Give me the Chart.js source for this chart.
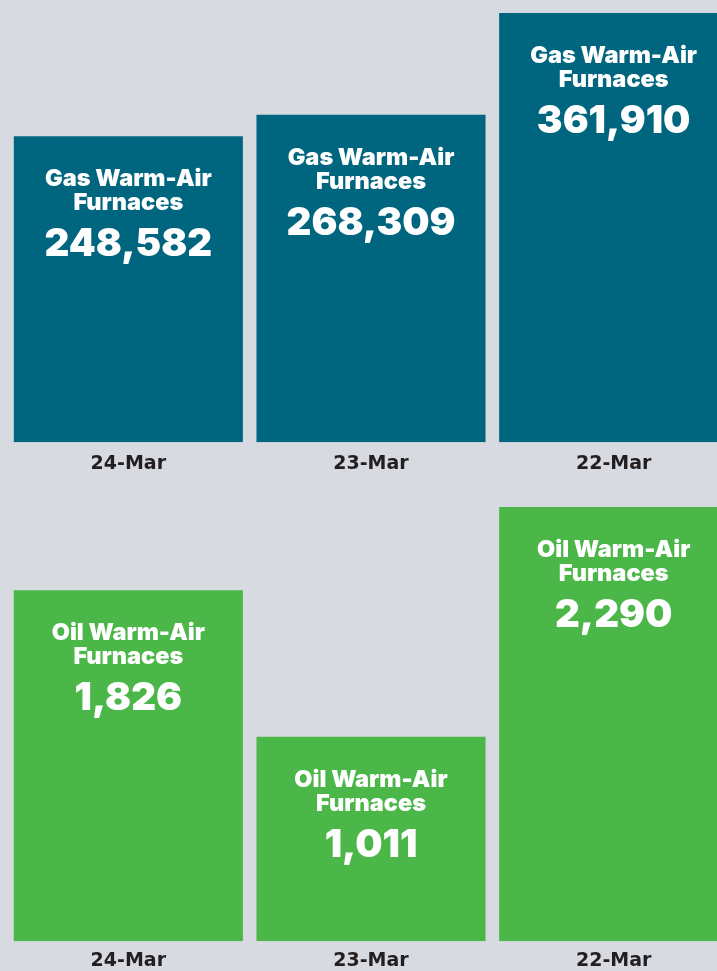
<!DOCTYPE html>
<html>
<head>
<meta charset="utf-8">
<script src="https://cdn.jsdelivr.net/npm/chart.js@4/dist/chart.umd.min.js"></script>
<style>
  html, body { margin: 0; padding: 0; background: #d7dae0; width: 717px; height: 971px; overflow: hidden; position: relative; }
  .wrap { position: absolute; left: 0; }
  #w1 { top: 0; width: 735px; height: 485px; }
  #w2 { top: 480px; width: 735px; height: 500px; }
</style>
</head>
<body>
<div class="wrap" id="w1"><canvas id="c1"></canvas></div>
<div class="wrap" id="w2"><canvas id="c2"></canvas></div>
<script>
// ---- data ----
const categories = ['24-Mar', '23-Mar', '22-Mar'];
const gasLabel = ['Gas Warm-Air', 'Furnaces'];
const gasValues = [248582, 268309, 361910];
const oilLabel = ['Oil Warm-Air', 'Furnaces'];
const oilValues = [1826, 1011, 2290];

// ---- styling ----
const FONT = '"DejaVu Sans", sans-serif';
const INNER_FONT = 'Inter, "DejaVu Sans", sans-serif';
const gasColor = '#00667f';
const oilColor = '#4bb749';

const innerLabels = {
  id: 'innerLabels',
  afterDatasetsDraw(chart) {
    const ctx = chart.ctx;
    const ds = chart.data.datasets[0];
    const meta = chart.getDatasetMeta(0);
    ctx.save();
    ctx.fillStyle = '#ffffff';
    ctx.textAlign = 'center';
    ctx.textBaseline = 'alphabetic';
    meta.data.forEach((bar, i) => {
      const x = bar.x, top = bar.y;
      ctx.font = '900 23.5px ' + INNER_FONT;
      ctx.fillText(ds.labelLines[0], x, top + 50);
      ctx.fillText(ds.labelLines[1], x, top + 74);
      ctx.font = '900 38.5px ' + INNER_FONT;
      ctx.fillText(ds.data[i].toLocaleString('en-US'), x, top + 120);
    });
    ctx.restore();
  }
};

function makeChart(id, values, lines, color, yMin, yMax, padTop, tickPad) {
  return new Chart(document.getElementById(id), {
    type: 'bar',
    data: {
      labels: categories,
      datasets: [{
        data: values,
        labelLines: lines,
        backgroundColor: color,
        borderWidth: 0,
        base: yMin,
        categoryPercentage: 1,
        barPercentage: 0.944
      }]
    },
    options: {
      responsive: true,
      maintainAspectRatio: false,
      animation: false,
      events: [],
      layout: { padding: { left: 7, right: 0, top: padTop, bottom: 0 } },
      plugins: { legend: { display: false }, tooltip: { enabled: false } },
      scales: {
        x: {
          grid: { display: false, drawTicks: false, tickLength: 0 },
          border: { display: false },
          ticks: { color: '#231f20', font: { family: FONT, size: 19, weight: 'bold' }, padding: tickPad }
        },
        y: {
          display: false,
          min: yMin,
          max: yMax
        }
      }
    },
    plugins: [innerLabels]
  });
}

makeChart('c1', gasValues, gasLabel, gasColor, -33370, 364787, 10, 10);
makeChart('c2', oilValues, oilLabel, oilColor, -128, 2385, 10, 8);
</script>
</body>
</html>
